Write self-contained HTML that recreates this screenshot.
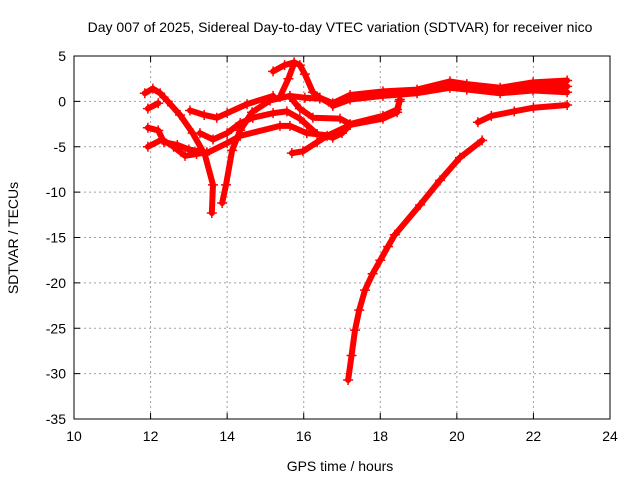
<!DOCTYPE html>
<html><head><meta charset="utf-8"><style>
body{margin:0;background:#fff;}
svg text{font-family:"Liberation Sans",sans-serif;}
</style></head><body>
<svg id="chart" width="640" height="480" xmlns="http://www.w3.org/2000/svg">
<rect width="640" height="480" fill="#fff"/>
<text x="340" y="32" font-size="14" text-anchor="middle">Day 007 of 2025, Sidereal Day-to-day VTEC variation (SDTVAR) for receiver nico</text>
<text x="340" y="471" font-size="14" text-anchor="middle">GPS time / hours</text>
<text transform="translate(18,238) rotate(-90)" font-size="14" text-anchor="middle">SDTVAR / TECUs</text>
<g id="grid"></g><g id="marks"></g>
<rect x="74" y="56" width="536" height="363" fill="none" stroke="#000"/>
</svg>
<script>
const xTicks=[10,12,14,16,18,20,22,24];
const yTicks=[5,0,-5,-10,-15,-20,-25,-30,-35];
const trackV1=[[11.85,0.9],[12.06,1.4],[12.25,0.9],[12.45,0.0],[12.77,-1.5],[13.1,-3.5],[13.42,-5.9],[13.63,-9.2],[13.6,-12.3]];
const trackV2=[[13.87,-11.2],[13.97,-9.2],[14.13,-5.4],[14.34,-3.2],[14.65,-1.2],[15.12,0.1],[15.64,0.6],[16.03,0.4],[16.42,0.3]];
const topBandUpper=[[16.42,0.4],[16.76,-0.2],[17.21,0.7],[18.07,1.1],[18.96,1.3],[19.82,2.2],[20.26,1.9],[21.13,1.5],[21.99,2.1],[22.88,2.3]];
const topBandMid=[[16.76,-0.3],[17.21,0.45],[18.07,0.85],[18.96,1.1],[19.82,1.85],[20.26,1.6],[21.13,1.2],[21.99,1.65],[22.88,1.65]];
const topBandLower=[[16.76,-0.5],[17.21,0.2],[18.07,0.6],[18.96,0.9],[19.82,1.5],[20.26,1.3],[21.13,0.9],[21.99,1.2],[22.88,1.0]];
const hump=[[15.2,3.3],[15.5,4.0],[15.75,4.3],[15.9,4.0],[16.03,3.0],[16.24,1.0],[16.42,0.4],[16.76,-0.4]];
const humpLeg=[[15.38,0.5],[15.6,2.5],[15.75,4.2]];
const midLeft=[[11.93,-0.8],[12.2,-0.2]];
const midA=[[13.03,-1.0],[13.4,-1.5],[13.73,-1.8],[14.0,-1.3],[14.52,-0.3],[15.2,0.6]];
const midB=[[15.64,0.5],[15.9,-0.8],[16.24,-1.8],[16.95,-1.9],[17.21,-2.5],[18.07,-1.6],[18.44,-0.9],[18.51,0.2]];
const lowLeftA=[[11.93,-2.9],[12.2,-3.2],[12.35,-4.5],[12.7,-4.8],[13.0,-5.3],[13.3,-5.5]];
const lowLeftB=[[11.93,-5.0],[12.3,-4.2],[12.6,-5.0],[12.9,-6.0],[13.2,-5.8],[13.47,-5.6]];
const trackC=[[13.29,-3.5],[13.63,-4.2],[14.0,-3.5],[14.34,-2.4],[14.67,-1.8],[15.2,-1.3],[15.56,-1.1],[15.9,-1.9],[16.35,-3.6],[16.76,-4.0],[17.0,-3.5],[17.21,-2.6]];
const trackD=[[13.47,-5.7],[14.0,-4.6],[14.34,-3.8],[15.38,-2.7],[15.64,-2.7],[16.08,-3.5],[16.76,-3.8]];
const trackE=[[15.69,-5.7],[15.98,-5.5],[16.35,-4.5],[16.61,-3.8],[17.21,-2.6],[18.07,-1.9],[18.44,-1.2],[18.5,0.0]];
const rightLow=[[20.55,-2.3],[20.9,-1.6],[21.5,-1.1],[22.0,-0.7],[22.88,-0.4]];
const bigRise=[[17.16,-30.7],[17.25,-28.0],[17.34,-25.2],[17.45,-23.0],[17.6,-20.8],[17.8,-19.0],[18.0,-17.5],[18.2,-16.0],[18.38,-14.7],[19.04,-11.4],[19.56,-8.7],[20.08,-6.2],[20.66,-4.3]];
const seriesList=[trackV1,trackV2,topBandUpper,topBandMid,topBandLower,hump,humpLeg,midLeft,midA,midB,lowLeftA,lowLeftB,trackC,trackD,trackE,rightLow,bigRise];
const seriesNames=['track-v-down','track-v-up','top-band-upper','top-band-mid','top-band-lower','hump','hump-leg','mid-left','mid-a','mid-b','low-left-a','low-left-b','track-c','track-d','track-e','right-low','big-rise'];
const NS='http://www.w3.org/2000/svg';
const X0=74,X1=610,Y0=56,Y1=419;
function sx(t){return X0+(t-10)/14*(X1-X0);}
function sy(v){return Y0+(5-v)/40*(Y1-Y0);}
const grid=document.getElementById('grid'),marks=document.getElementById('marks');
xTicks.forEach(t=>{
 const x=sx(t);
 if(t>10&&t<24){const l=document.createElementNS(NS,'line');l.setAttribute('x1',x);l.setAttribute('x2',x);l.setAttribute('y1',Y0);l.setAttribute('y2',Y1);l.setAttribute('stroke','#a0a0a0');l.setAttribute('stroke-dasharray','2,3');
 
 grid.appendChild(l);}
 const tk=document.createElementNS(NS,'path');tk.setAttribute('d',`M${x},${Y1}v-6M${x},${Y0}v6`);tk.setAttribute('stroke','#000');
 
 grid.appendChild(tk);
 const tx=document.createElementNS(NS,'text');tx.setAttribute('x',x);tx.setAttribute('y',Y1+22);tx.setAttribute('font-size','14');tx.setAttribute('text-anchor','middle');tx.textContent=t;
 
 grid.appendChild(tx);
});
yTicks.forEach(v=>{
 const y=sy(v);
 if(v<5&&v>-35){const l=document.createElementNS(NS,'line');l.setAttribute('x1',X0);l.setAttribute('x2',X1);l.setAttribute('y1',y);l.setAttribute('y2',y);l.setAttribute('stroke','#a0a0a0');l.setAttribute('stroke-dasharray','2,3');
 
 grid.appendChild(l);}
 const tk=document.createElementNS(NS,'path');tk.setAttribute('d',`M${X0},${y}h6M${X1},${y}h-6`);tk.setAttribute('stroke','#000');
 
 grid.appendChild(tk);
 const tx=document.createElementNS(NS,'text');tx.setAttribute('x',X0-8);tx.setAttribute('y',y+5);tx.setAttribute('font-size','14');tx.setAttribute('text-anchor','end');tx.textContent=v;
 
 grid.appendChild(tx);
});
seriesList.forEach((s,i)=>{
 const g=document.createElementNS(NS,'g');
 
 
 const p=document.createElementNS(NS,'polyline');
 p.setAttribute('points',s.map(d=>sx(d[0])+','+sy(d[1])).join(' '));
 p.setAttribute('fill','none');p.setAttribute('stroke','#ff0000');p.setAttribute('stroke-width','6');p.setAttribute('stroke-linejoin','round');p.setAttribute('stroke-linecap','round');
 
 
 g.appendChild(p);
 s.forEach(d=>{
  const m=document.createElementNS(NS,'path');const x=sx(d[0]),y=sy(d[1]);
  m.setAttribute('d',`M${x-5},${y}h10M${x},${y-5}v10`);m.setAttribute('stroke','#ff0000');m.setAttribute('stroke-width','1.5');
  
  
  g.appendChild(m);
 });
 marks.appendChild(g);
});
</script>
</body></html>
